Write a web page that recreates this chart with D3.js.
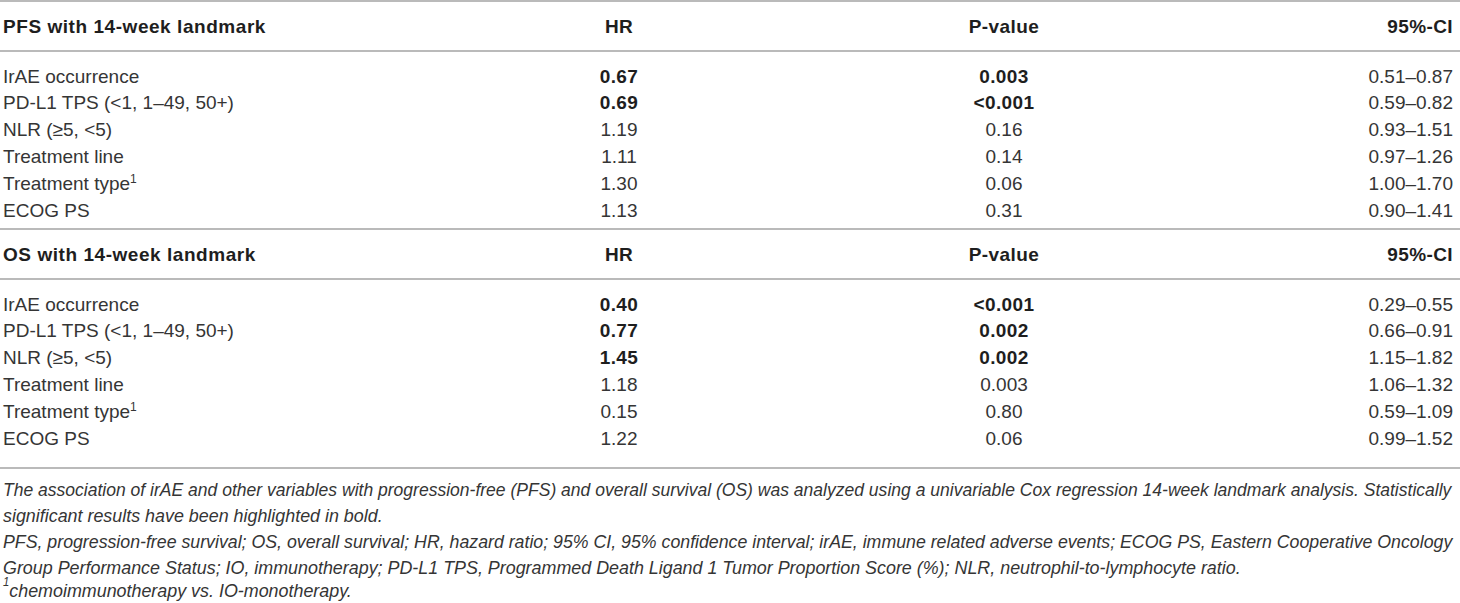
<!DOCTYPE html>
<html>
<head>
<meta charset="utf-8">
<script src="https://cdn.jsdelivr.net/npm/d3@7"></script>
<style>
  html, body { margin: 0; padding: 0; background: #fff; }
  svg { display: block; font-family: "Liberation Sans", Arial, sans-serif; }
</style>
</head>
<body>
<svg id="tbl" width="1460" height="603"></svg>
<script>
// table content
let columns = ["HR", "P-value", "95%-CI"];
let blockTitles = ["PFS with 14-week landmark", "OS with 14-week landmark"];
let variables = ["IrAE occurrence", "PD-L1 TPS (<1, 1\u201349, 50+)", "NLR (\u22655, <5)", "Treatment line", "Treatment type", "ECOG PS"];
let superscript = ["", "", "", "", "1", ""];

let pfsHR = ["0.67", "0.69", "1.19", "1.11", "1.30", "1.13"];
let pfsP = ["0.003", "<0.001", "0.16", "0.14", "0.06", "0.31"];
let pfsCI = ["0.51\u20130.87", "0.59\u20130.82", "0.93\u20131.51", "0.97\u20131.26", "1.00\u20131.70", "0.90\u20131.41"];
let pfsBold = [true, true, false, false, false, false];

let osHR = ["0.40", "0.77", "1.45", "1.18", "0.15", "1.22"];
let osP = ["<0.001", "0.002", "0.002", "0.003", "0.80", "0.06"];
let osCI = ["0.29\u20130.55", "0.66\u20130.91", "1.15\u20131.82", "1.06\u20131.32", "0.59\u20131.09", "0.99\u20131.52"];
let osBold = [true, true, true, false, false, false];

let footnotes = [
  "The association of irAE and other variables with progression-free (PFS) and overall survival (OS) was analyzed using a univariable Cox regression 14-week landmark analysis. Statistically",
  "significant results have been highlighted in bold.",
  "PFS, progression-free survival; OS, overall survival; HR, hazard ratio; 95% CI, 95% confidence interval; irAE, immune related adverse events; ECOG PS, Eastern Cooperative Oncology",
  "Group Performance Status; IO, immunotherapy; PD-L1 TPS, Programmed Death Ligand 1 Tumor Proportion Score (%); NLR, neutrophil-to-lymphocyte ratio.",
  "chemoimmunotherapy vs. IO-monotherapy."
];
let footnoteJustified = [true, false, true, false, false];

let blocks = [
  {title: blockTitles[0], hr: pfsHR, p: pfsP, ci: pfsCI, bold: pfsBold},
  {title: blockTitles[1], hr: osHR, p: osP, ci: osCI, bold: osBold}
];

const svg = d3.select("#tbl");
const textColor = "#353535";
const boldColor = "#1e1e1e";
const ruleColor = "#a3a3a3";
const fontSize = 19;

// column positions
const colX = d3.scaleOrdinal().domain(columns).range([619, 1004, 1453]);
const colAnchor = d3.scaleOrdinal().domain(columns).range(["middle", "middle", "end"]);

// row positions inside a block
const rowY = d3.scaleLinear().domain([0, 1]).range([76, 102.8]);

const blockTop = [1, 229];
const blockHeader = 26;
const headerRule = 51;
const blockHeight = 228;

function rule(y) {
  svg.append("line")
    .attr("x1", 0).attr("x2", 1460)
    .attr("y1", y).attr("y2", y)
    .style("stroke", ruleColor)
    .style("stroke-width", 1.6);
}

blocks.forEach((b, bi) => {
  let y0 = blockTop[bi];
  let g = svg.append("g").attr("transform", `translate(0,${y0 - 1})`);

  rule(y0);

  // header row
  g.append("text")
    .attr("x", 3).attr("y", blockHeader).attr("dy", "0.35em")
    .style("font-size", fontSize + "px").style("font-weight", "bold")
    .style("letter-spacing", "0.55px")
    .style("fill", boldColor)
    .text(b.title);

  g.selectAll("text.colhead")
    .data(columns)
    .enter()
    .append("text")
    .attr("class", "colhead")
    .attr("x", d => colX(d))
    .attr("y", blockHeader).attr("dy", "0.35em")
    .attr("text-anchor", d => colAnchor(d))
    .style("font-size", fontSize + "px").style("font-weight", "bold")
    .style("letter-spacing", "0.4px")
    .style("fill", boldColor)
    .text(d => d);

  rule(y0 + headerRule - 1);

  // data rows
  let rows = g.selectAll("g.row")
    .data(variables)
    .enter()
    .append("g")
    .attr("class", "row")
    .attr("transform", (d, i) => `translate(0,${rowY(i)})`);

  let label = rows.append("text")
    .attr("x", 3).attr("dy", "0.35em")
    .style("font-size", fontSize + "px")
    .style("fill", textColor)
    .text(d => d);

  label.filter((d, i) => superscript[i] != "")
    .append("tspan")
    .attr("dy", "-0.55em")
    .style("font-size", "12px")
    .text(d => superscript[variables.indexOf(d)]);

  rows.append("text")
    .attr("x", colX("HR")).attr("dy", "0.35em")
    .attr("text-anchor", colAnchor("HR"))
    .style("font-size", fontSize + "px")
    .style("font-weight", (d, i) => b.bold[i] ? "bold" : "normal")
    .style("letter-spacing", (d, i) => b.bold[i] ? "0.4px" : "0px")
    .style("fill", (d, i) => b.bold[i] ? boldColor : textColor)
    .text((d, i) => b.hr[i]);

  rows.append("text")
    .attr("x", colX("P-value")).attr("dy", "0.35em")
    .attr("text-anchor", colAnchor("P-value"))
    .style("font-size", fontSize + "px")
    .style("font-weight", (d, i) => b.bold[i] ? "bold" : "normal")
    .style("letter-spacing", (d, i) => b.bold[i] ? "0.4px" : "0px")
    .style("fill", (d, i) => b.bold[i] ? boldColor : textColor)
    .text((d, i) => b.p[i]);

  rows.append("text")
    .attr("x", colX("95%-CI")).attr("dy", "0.35em")
    .attr("text-anchor", colAnchor("95%-CI"))
    .style("font-size", fontSize + "px")
    .style("fill", textColor)
    .text((d, i) => b.ci[i]);
});

rule(blockTop[1] + blockHeight + 11);

// footnotes: condensed italic, squeezed horizontally
const noteY = d3.scaleLinear().domain([0, 1]).range([489, 515]);
const fullWidth = 1450;

let noteG = svg.selectAll("g.note")
  .data(footnotes)
  .enter()
  .append("g")
  .attr("class", "note")
  .attr("transform", (d, i) => `translate(3,${noteY(i)})`);

let notes = noteG.append("text")
  .attr("dy", "0.35em")
  .style("font-size", fontSize + "px")
  .style("font-style", "italic")
  .style("fill", textColor);

let last = notes.filter((d, i) => i == footnotes.length - 1);
last.append("tspan")
  .attr("dy", "-0.55em")
  .style("font-size", "12px")
  .text("1");
last.append("tspan")
  .attr("dy", "0.55em")
  .text(d => d);
notes.filter((d, i) => i != footnotes.length - 1)
  .text(d => d);

let natural2 = notes.filter((d, i) => i == 1).node().getComputedTextLength();
let squeeze = 380 / natural2;
notes.each(function(d, i) {
  let nat = this.getComputedTextLength();
  let sx = footnoteJustified[i] ? fullWidth / nat : squeeze;
  d3.select(this).attr("transform", `scale(${sx},1)`);
});
</script>
</body>
</html>
